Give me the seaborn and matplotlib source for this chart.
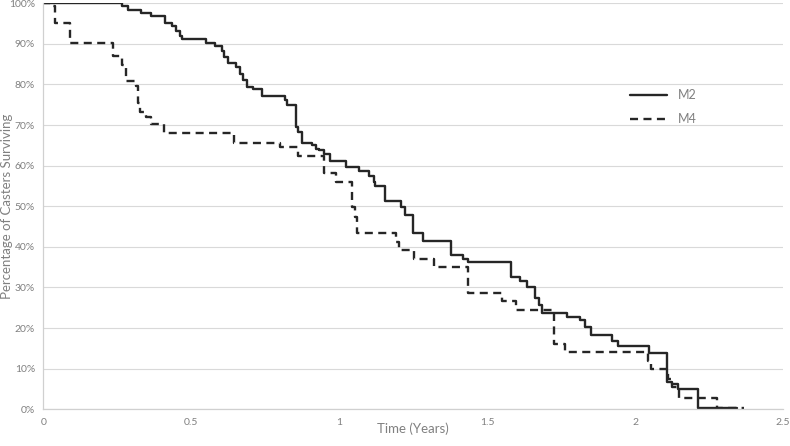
import pandas as pd
import matplotlib
matplotlib.use('Agg')
import matplotlib.pyplot as plt
import seaborn as sns

# Survival steps (time in years, % surviving)
m2_time = [0.0, 0.264, 0.285, 0.331, 0.365, 0.412, 0.436, 0.449, 0.460, 0.469,
           0.548, 0.581, 0.604, 0.609, 0.623, 0.651, 0.666, 0.673, 0.688, 0.707,
           0.739, 0.817, 0.824, 0.855, 0.862, 0.875, 0.907, 0.923, 0.932, 0.948,
           0.968, 1.022, 1.066, 1.100, 1.117, 1.120, 1.154, 1.210, 1.221, 1.248,
           1.282, 1.377, 1.420, 1.434, 1.582, 1.611, 1.635, 1.661, 1.675, 1.686,
           1.771, 1.813, 1.830, 1.852, 1.923, 1.944, 2.048, 2.107, 2.124, 2.144,
           2.213, 2.330, 2.346]
m2_surv = [100, 99.3, 98.3, 97.5, 96.9, 95.2, 94.4, 93.3, 91.9, 91.1,
           90.3, 89.5, 88.3, 86.7, 85.4, 84.4, 82.6, 81.1, 79.3, 79.0,
           77.2, 76.2, 75.0, 69.6, 68.4, 65.7, 65.0, 64.1, 63.9, 62.9,
           61.2, 59.8, 58.8, 57.5, 56.1, 55.0, 51.4, 49.9, 47.9, 43.5,
           41.5, 38.0, 36.9, 36.3, 32.7, 31.7, 30.0, 27.3, 25.7, 23.8,
           22.8, 22.0, 20.2, 18.3, 16.7, 15.6, 13.9, 6.8, 6.2, 4.9,
           0.4, 0.2, 0.2]

m4_time = [0.0, 0.023, 0.039, 0.090, 0.234, 0.267, 0.278, 0.314, 0.320, 0.326,
           0.348, 0.365, 0.406, 0.645, 0.800, 0.859, 0.948, 0.988, 1.042, 1.055,
           1.061, 1.192, 1.203, 1.254, 1.319, 1.434, 1.549, 1.596, 1.726, 1.762,
           2.045, 2.054, 2.110, 2.125, 2.150, 2.277, 2.368]
m4_surv = [100, 99.3, 95.2, 90.1, 86.9, 84.8, 80.9, 79.6, 75.4, 73.3,
           72.1, 70.2, 68.1, 65.5, 64.7, 62.4, 58.3, 56.1, 49.9, 47.4,
           43.5, 41.3, 39.2, 37.0, 35.0, 28.7, 26.7, 24.5, 16.1, 14.0,
           12.0, 10.0, 7.5, 5.4, 2.7, 0.3, 0.3]

x_ticks = [0, 0.5, 1, 1.5, 2, 2.5]
x_tick_labels = ['0', '0.5', '1', '1.5', '2', '2.5']
y_ticks = list(range(0, 101, 10))
y_tick_labels = [f'{v}%' for v in y_ticks]

df_m2 = pd.DataFrame({'time': m2_time, 'surv': m2_surv})
df_m4 = pd.DataFrame({'time': m4_time, 'surv': m4_surv})

sns.set_style('white')
plt.rcParams['font.family'] = ['Lato', 'DejaVu Sans']

fig = plt.figure(figsize=(7.9, 4.46), dpi=100)
ax = fig.add_axes([0.055, 0.0823, 0.936, 0.9103])

sns.lineplot(data=df_m2, x='time', y='surv', ax=ax, estimator=None, sort=False,
             drawstyle='steps-post', color='#262626', linewidth=1.7, label='M2')
sns.lineplot(data=df_m4, x='time', y='surv', ax=ax, estimator=None, sort=False,
             drawstyle='steps-post', color='#262626', linewidth=1.7,
             dashes=False, linestyle=(0, (3.4, 2.3)), label='M4')

ax.set_xlim(0, 2.5)
ax.set_ylim(0, 100)
ax.set_xticks(x_ticks)
ax.set_xticklabels(x_tick_labels)
ax.set_yticks(y_ticks)
ax.set_yticklabels(y_tick_labels)
ax.tick_params(axis='both', length=0, labelsize=7.5, labelcolor='#808080', pad=6)
ax.yaxis.grid(True, color='#d9d9d9', linewidth=0.8)
ax.set_axisbelow(True)

for side in ['top', 'right']:
    ax.spines[side].set_visible(False)
for side in ['left', 'bottom']:
    ax.spines[side].set_color('#d0d0d0')
    ax.spines[side].set_linewidth(0.9)

ax.set_xlabel('Time (Years)', fontsize=9.5, color='#808080')
ax.xaxis.set_label_coords(0.5, -0.032)
ax.set_ylabel('Percentage of Casters Surviving', fontsize=9.5, color='#808080')
ax.yaxis.set_label_coords(-0.041, 0.5)

leg = ax.legend(loc='upper left', bbox_to_anchor=(0.778, 0.816), frameon=False,
                fontsize=9, handlelength=3.0, labelspacing=0.95)
for t in leg.get_texts():
    t.set_color('#808080')

fig.savefig('out.png', dpi=100)
